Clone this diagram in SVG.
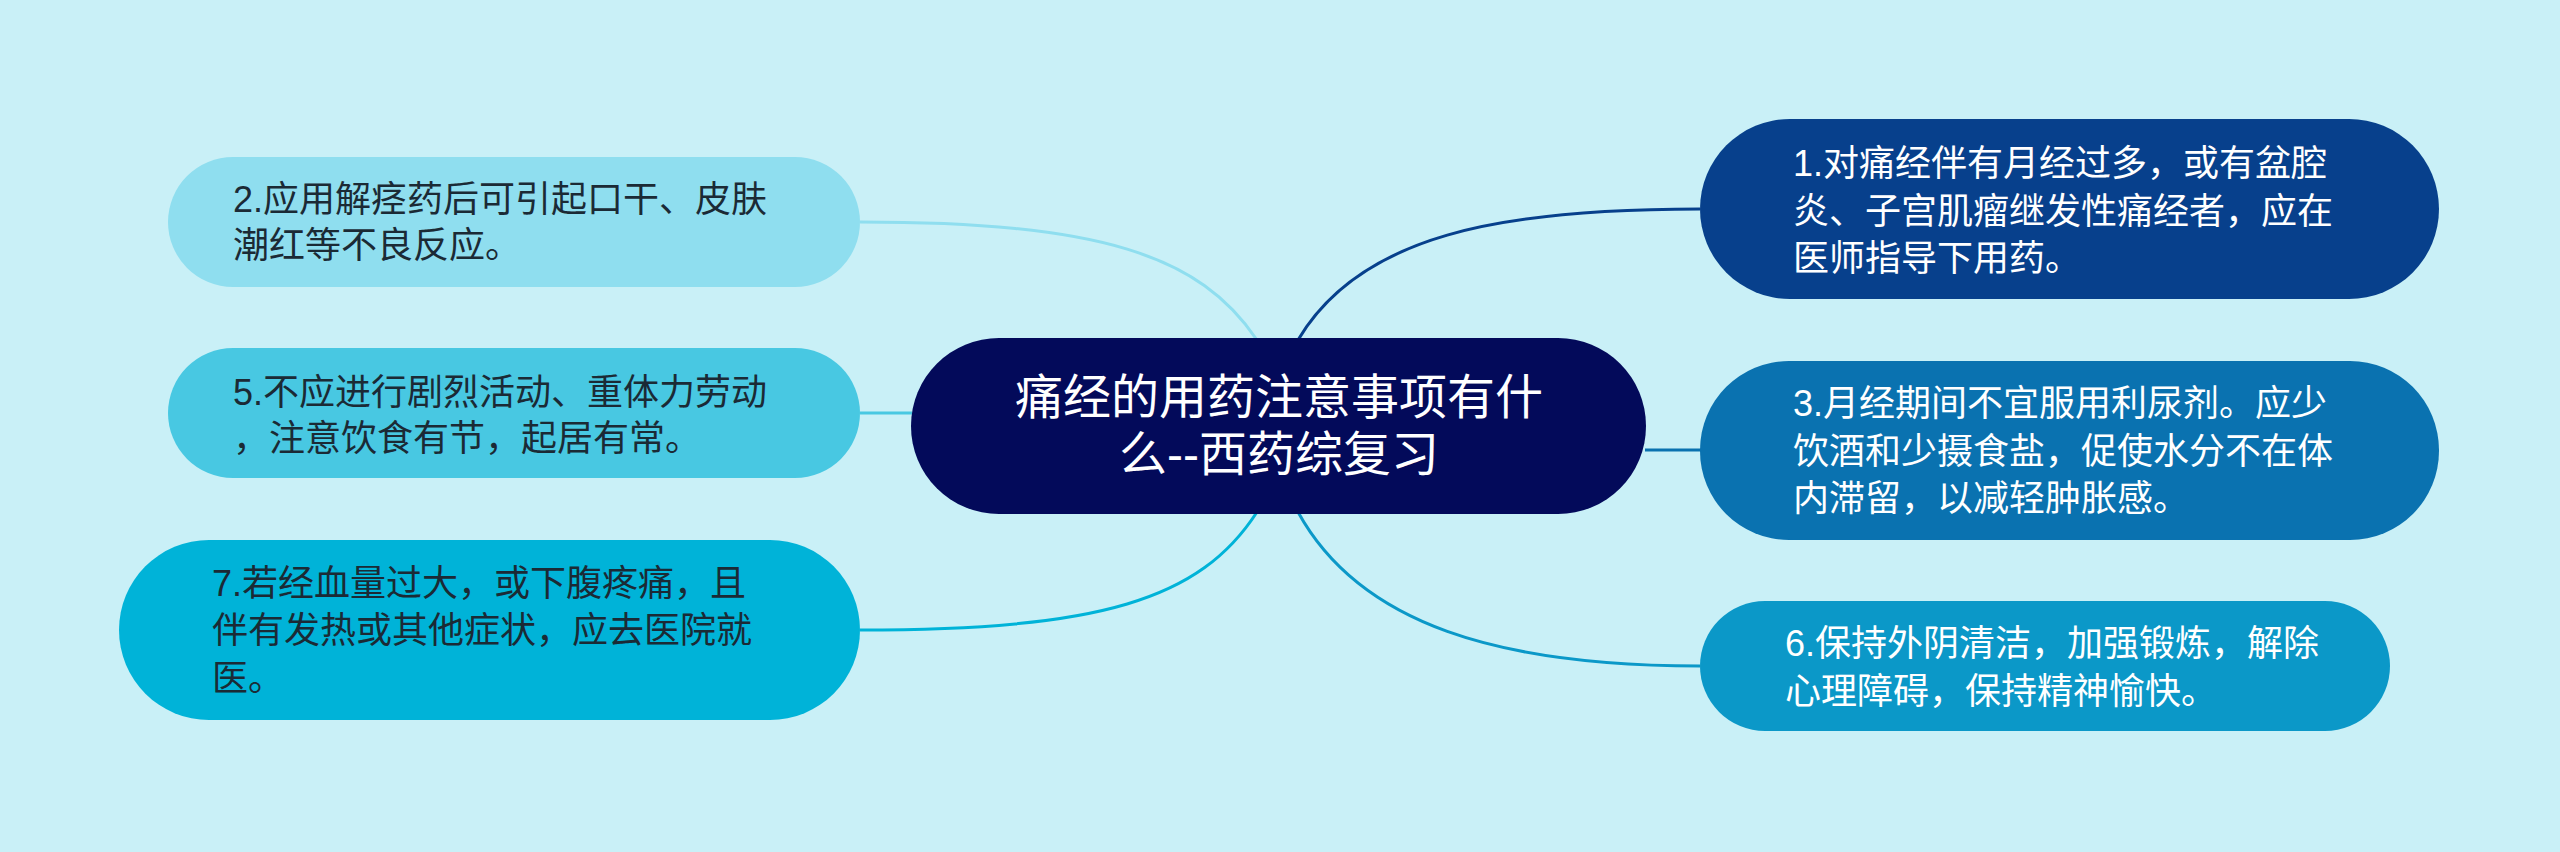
<svg xmlns="http://www.w3.org/2000/svg" width="2560" height="852" viewBox="0 0 2560 852">
<style>
.t{font-family:"Liberation Sans","Noto Sans CJK SC",sans-serif;font-size:36px}
.dk{fill:#1b2a35}
.wt{fill:#ffffff}
.c{font-family:"Liberation Sans","Noto Sans CJK SC",sans-serif;font-size:48px;fill:#ffffff;text-anchor:middle}
.l{fill:none;stroke-width:3}
</style>
<rect width="2560" height="852" fill="#c9f0f7"/>
<g id="connectors">
<path class="l" stroke="#8fdeef" d="M860,222 C1100,222 1200,255 1257,340"/>
<path class="l" stroke="#48c8e2" d="M860,413 L912,413"/>
<path class="l" stroke="#00b3d8" d="M860,630 C1100,630 1200,600 1257,512"/>
<path class="l" stroke="#07408c" d="M1298,340 C1360,235 1500,209 1700,209"/>
<path class="l" stroke="#0a72b0" d="M1645,450 L1701,450"/>
<path class="l" stroke="#0b98c8" d="M1298,512 C1360,625 1500,666 1700,666"/>
</g>
<g id="center">
<rect x="911" y="338" width="735" height="176" rx="88" fill="#030a5a"/>
<text class="c" x="1279" y="414">痛经的用药注意事项有什</text>
<text class="c" x="1279" y="471">么--西药综复习</text>
</g>
<g id="n2">
<rect x="168" y="157" width="692" height="130" rx="65" fill="#8fdeef"/>
<text class="t dk" x="233" y="212">2.应用解痉药后可引起口干、皮肤</text>
<text class="t dk" x="233" y="258">潮红等不良反应。</text>
</g>
<g id="n5">
<rect x="168" y="348" width="692" height="130" rx="65" fill="#48c8e2"/>
<text class="t dk" x="233" y="405">5.不应进行剧烈活动、重体力劳动</text>
<text class="t dk" x="233" y="451">，注意饮食有节，起居有常。</text>
</g>
<g id="n7">
<rect x="119" y="540" width="741" height="180" rx="90" fill="#00b3d8"/>
<text class="t dk" x="212" y="596">7.若经血量过大，或下腹疼痛，且</text>
<text class="t dk" x="212" y="643">伴有发热或其他症状，应去医院就</text>
<text class="t dk" x="212" y="691">医。</text>
</g>
<g id="n1">
<rect x="1700" y="119" width="739" height="180" rx="90" fill="#07408c"/>
<text class="t wt" x="1793" y="176">1.对痛经伴有月经过多，或有盆腔</text>
<text class="t wt" x="1793" y="224">炎、子宫肌瘤继发性痛经者，应在</text>
<text class="t wt" x="1793" y="271">医师指导下用药。</text>
</g>
<g id="n3">
<rect x="1700" y="361" width="739" height="179" rx="89" fill="#0a72b0"/>
<text class="t wt" x="1793" y="416">3.月经期间不宜服用利尿剂。应少</text>
<text class="t wt" x="1793" y="464">饮酒和少摄食盐，促使水分不在体</text>
<text class="t wt" x="1793" y="511">内滞留，以减轻肿胀感。</text>
</g>
<g id="n6">
<rect x="1700" y="601" width="690" height="130" rx="65" fill="#0b98c8"/>
<text class="t wt" x="1785" y="656">6.保持外阴清洁，加强锻炼，解除</text>
<text class="t wt" x="1785" y="704">心理障碍，保持精神愉快。</text>
</g>
</svg>
